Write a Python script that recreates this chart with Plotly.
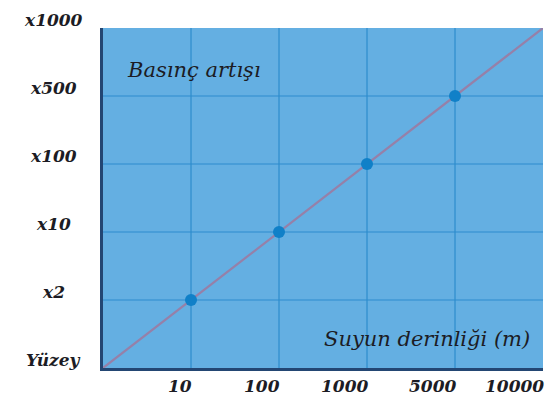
import plotly.graph_objects as go

# Data
depth_labels = ["10", "100", "1000", "5000", "10000"]
depth_tick_pos = [1, 2, 3, 4, 5]
pressure_labels = ["Yüzey", "x2", "x10", "x100", "x500", "x1000"]
pressure_pos = [0, 1, 2, 3, 4, 5]
point_x = [1, 2, 3, 4]   # 10 m, 100 m, 1000 m, 5000 m
point_y = [1, 2, 3, 4]   # x2, x10, x100, x500
line_x = [0, 5]
line_y = [0, 5]

font_family = "DejaVu Serif"
text_color = "#1c1c24"
tick_font = dict(family=font_family, size=17, color=text_color,
                 style="italic", weight="bold")

fig = go.Figure()
fig.add_trace(go.Scatter(x=line_x, y=line_y, mode="lines",
                         line=dict(color="rgb(150,128,168)", width=2.2),
                         hoverinfo="skip", showlegend=False))
fig.add_trace(go.Scatter(x=point_x, y=point_y, mode="markers",
                         marker=dict(color="rgb(16,128,200)", size=12),
                         showlegend=False))

annotations = []
for lab, p in zip(pressure_labels, pressure_pos):
    annotations.append(dict(x=0, xref="paper", y=p, yref="y", text=lab,
                            showarrow=False, xanchor="center", yanchor="middle",
                            xshift=-50, yshift=8, font=tick_font))
for lab, p in zip(depth_labels, depth_tick_pos):
    annotations.append(dict(x=p, xref="x", y=0, yref="paper", text=lab,
                            showarrow=False, xanchor="right", yanchor="middle",
                            xshift=3, yshift=-18, font=tick_font))
annotations.append(dict(x=0.05, xref="paper", y=0.876, yref="paper", text="Basınç artışı",
                        showarrow=False, xanchor="left", yanchor="middle",
                        font=dict(family=font_family, size=21, color=text_color,
                                  style="italic")))
annotations.append(dict(x=0.975, xref="paper", y=0.085, yref="paper", text="Suyun derinliği (m)",
                        showarrow=False, xanchor="right", yanchor="middle",
                        font=dict(family=font_family, size=21, color=text_color,
                                  style="italic")))

fig.update_layout(
    width=549, height=397,
    margin=dict(l=95, r=14, t=20, b=37),
    paper_bgcolor="white",
    plot_bgcolor="rgb(100,175,226)",
    annotations=annotations,
    xaxis=dict(range=[0, 5], tickvals=depth_tick_pos, showticklabels=False,
               showgrid=False, zeroline=False, showline=True,
               linecolor="rgb(35,70,115)", linewidth=2.5, ticks=""),
    yaxis=dict(range=[0, 5], tickvals=pressure_pos, showticklabels=False,
               showgrid=False, zeroline=False, showline=True,
               linecolor="rgb(35,70,115)", linewidth=2.5, ticks=""),
    shapes=[dict(type="line", xref="x", yref="paper", x0=v, x1=v, y0=0, y1=1,
                 line=dict(color="rgb(45,140,205)", width=1.2), layer="below")
            for v in [1, 2, 3, 4]] +
           [dict(type="line", xref="paper", yref="y", x0=0, x1=1, y0=v, y1=v,
                 line=dict(color="rgb(45,140,205)", width=1.2), layer="below")
            for v in [1, 2, 3, 4]],
)

fig.write_html("out.html")
